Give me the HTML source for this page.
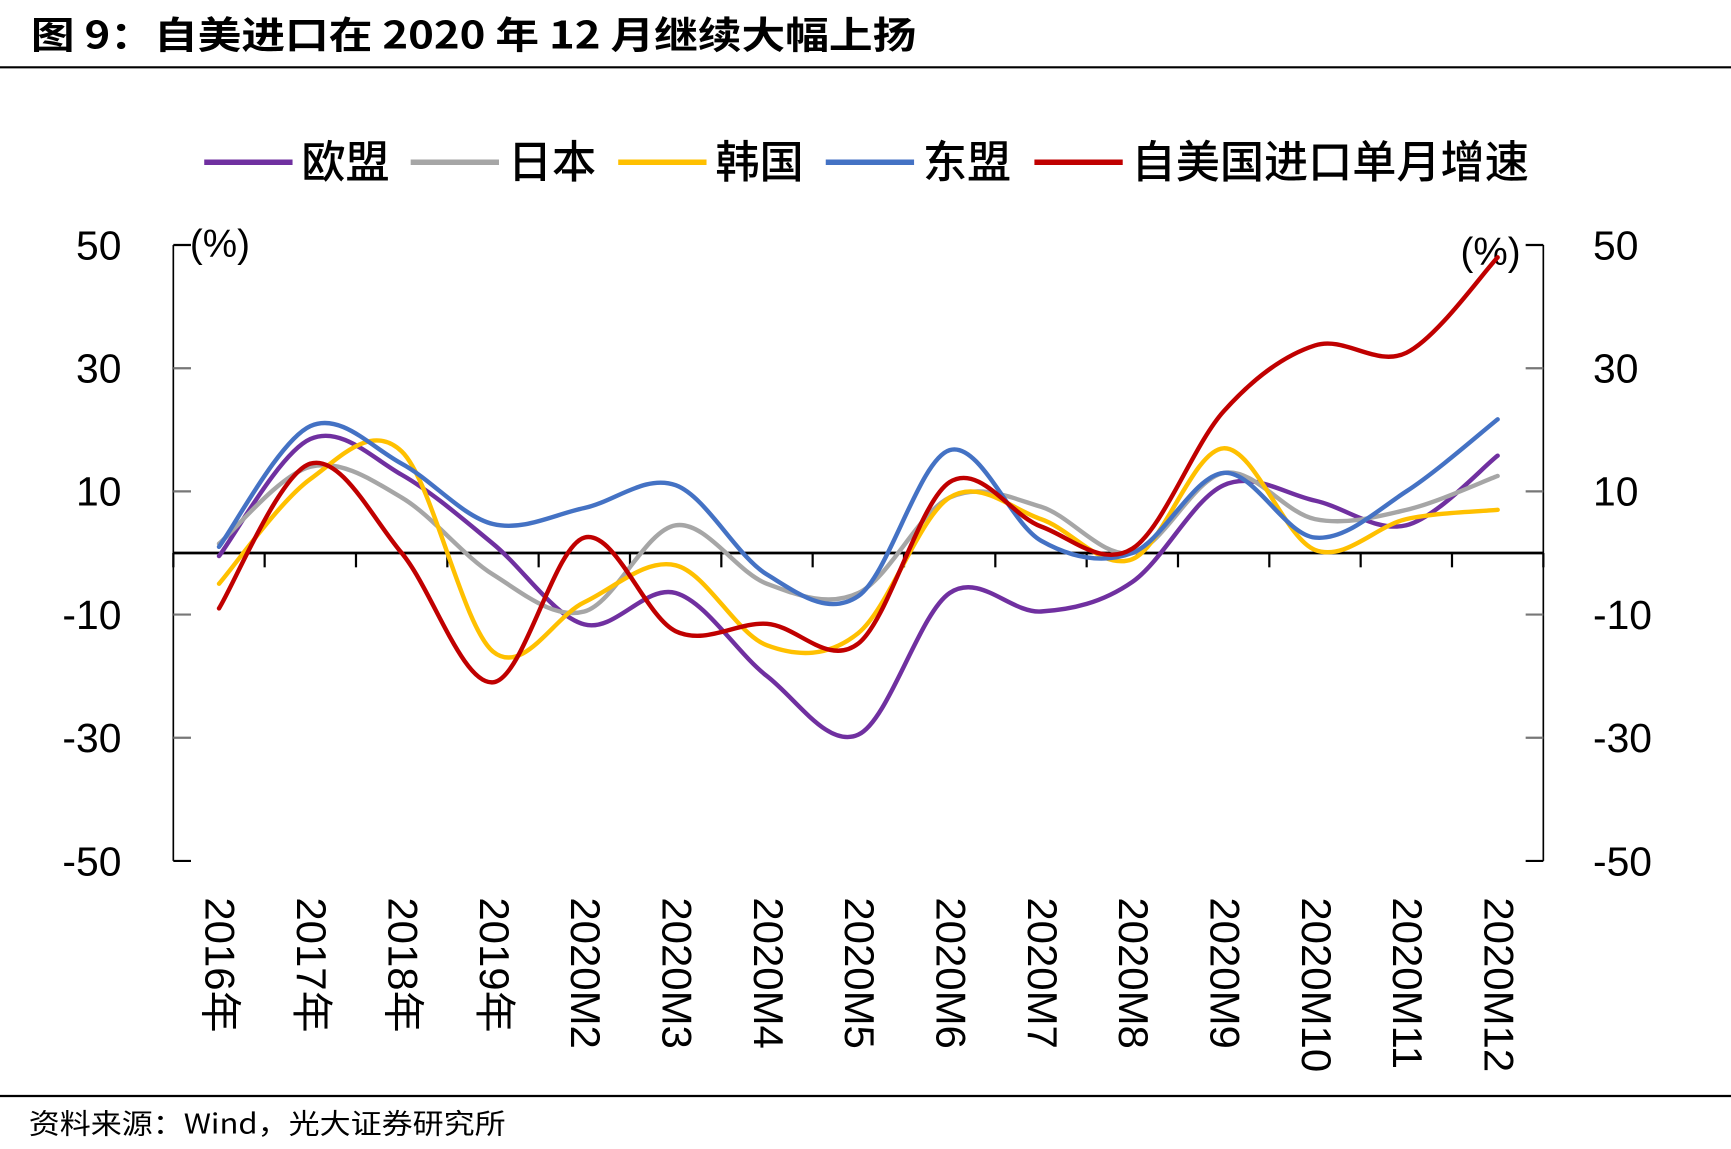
<!DOCTYPE html>
<html><head><meta charset="utf-8"><style>
html,body{margin:0;padding:0;background:#fff;width:1731px;height:1149px;overflow:hidden}
svg{display:block}
text{font-family:"Liberation Sans","Noto Sans CJK SC",sans-serif}
.cjk{font-family:"Noto Sans CJK SC","Liberation Sans",sans-serif}
</style></head><body>
<svg id="chart" width="1731" height="1149" viewBox="0 0 1568 1041" preserveAspectRatio="none" xmlns="http://www.w3.org/2000/svg">
<text class="cjk" x="28" y="44" font-size="34" font-weight="bold" fill="#000" textLength="802" lengthAdjust="spacingAndGlyphs">图 9：自美进口在 2020 年 12 月继续大幅上扬</text>
<line x1="0" y1="61" x2="1568" y2="61" stroke="#000" stroke-width="2"/>
<g id="legend"></g>
<g id="axes"></g>
<g id="series"></g>
<line x1="0" y1="993" x2="1568" y2="993" stroke="#000" stroke-width="2"/>
<text class="cjk" x="26" y="1027" font-size="25" fill="#000" textLength="432" lengthAdjust="spacingAndGlyphs">资料来源：Wind，光大证券研究所</text>
</svg>
<script>
const categories=["2016年","2017年","2018年","2019年","2020M2","2020M3","2020M4","2020M5","2020M6","2020M7","2020M8","2020M9","2020M10","2020M11","2020M12"];
const yTicks=[50,30,10,-10,-30,-50];
const seriesNames=["欧盟","日本","韩国","东盟","自美国进口单月增速"];
const seriesColors=["#7030a0","#a6a6a6","#ffc000","#4472c4","#c00000"];
const euValues=[-0.5,18.5,12.7,1.5,-11.6,-6.5,-20,-29.5,-6.5,-9.5,-4.7,11,8.5,4.5,15.8];
const japanValues=[1.5,14,9,-3.5,-9.5,4.5,-5,-6.5,9,7.5,0,13,5.5,7,12.5];
const koreaValues=[-5,12,16.5,-16,-8,-2,-15,-13,9,5.5,-1,17,0.5,5.5,7];
const aseanValues=[1,20.6,14.5,4.7,7.3,11,-3.5,-7,16.7,2,0,13,2.5,10,21.7];
const usValues=[-9,14.5,0,-21,2.5,-12.7,-11.5,-14.7,11.5,4.3,0.7,23,33.7,32.5,48];
const allSeries=[euValues,japanValues,koreaValues,aseanValues,usValues];

const NS="http://www.w3.org/2000/svg";
const L=157,R=1398,T=222,B=780,yMax=50,yMin=-50;
const bw=(R-L)/categories.length;
function xPos(i){return L+bw*(i+0.5);}
function yPos(v){return T+(yMax-v)/(yMax-yMin)*(B-T);}
function mk(tag,attrs,parent){const e=document.createElementNS(NS,tag);for(const k in attrs)e.setAttribute(k,attrs[k]);parent.appendChild(e);return e;}

const axes=document.getElementById('axes');
let e;
e=mk('line',{x1:L,y1:T,x2:L,y2:B,stroke:'#000','stroke-width':1.5},axes);


e=mk('line',{x1:R,y1:T,x2:R,y2:B,stroke:'#000','stroke-width':1.5},axes);


yTicks.forEach(v=>{
  const y=yPos(v);
  const c=(v===50||v===-50)?'#000':'#777';
  e=mk('line',{x1:L,y1:y,x2:L+16,y2:y,stroke:c,'stroke-width':2},axes);
  
  
  e=mk('line',{x1:R-16,y1:y,x2:R,y2:y,stroke:c,'stroke-width':2},axes);
  
  
  e=mk('text',{x:110,y:y+13,'font-size':37,'text-anchor':'end',fill:'#000'},axes);
  e.textContent=v;
  
  
  e=mk('text',{x:1443,y:y+13,'font-size':37,'text-anchor':'start',fill:'#000'},axes);
  e.textContent=v;
  
  
});
e=mk('text',{x:172,y:233,'font-size':35,fill:'#000'},axes);e.textContent='(%)';


e=mk('text',{x:1323,y:240,'font-size':35,fill:'#000'},axes);e.textContent='(%)';


const y0=yPos(0);
e=mk('line',{x1:L,y1:y0,x2:R,y2:y0,stroke:'#000','stroke-width':2.5},axes);


for(let i=0;i<=categories.length;i++){
  e=mk('line',{x1:L+bw*i,y1:y0,x2:L+bw*i,y2:y0+13,stroke:'#000','stroke-width':2},axes);
  
  
}
categories.forEach((c,i)=>{
  const x=xPos(i)-12;
  e=mk('text',{x:x,y:813,'font-size':38,fill:'#000',transform:`rotate(90 ${x} 813)`},axes);
  e.textContent=c;
  
  
});

function smoothPath(vals){
  const p=vals.map((v,i)=>[xPos(i),yPos(v)]);
  let d=`M${p[0][0]},${p[0][1]}`;
  for(let i=0;i<p.length-1;i++){
    const p0=p[i-1]||p[i],p1=p[i],p2=p[i+1],p3=p[i+2]||p[i+1];
    const c1=[p1[0]+(p2[0]-p0[0])/6,p1[1]+(p2[1]-p0[1])/6];
    const c2=[p2[0]-(p3[0]-p1[0])/6,p2[1]-(p3[1]-p1[1])/6];
    d+=` C${c1[0]},${c1[1]} ${c2[0]},${c2[1]} ${p2[0]},${p2[1]}`;
  }
  return d;
}
const sg=document.getElementById('series');
const serNames=['series-eu','series-japan','series-korea','series-asean','series-us-imports'];
allSeries.forEach((vals,k)=>{
  e=mk('path',{d:smoothPath(vals),fill:'none',stroke:seriesColors[k],'stroke-width':4,'stroke-linejoin':'round','stroke-linecap':'round'},sg);
  
  
});

const lg=document.getElementById('legend');
const lx=[185,372,560,748,937];
seriesNames.forEach((n,k)=>{
  const g=mk('g',{},lg);
  
  
  mk('line',{x1:lx[k],y1:147,x2:lx[k]+80,y2:147,stroke:seriesColors[k],'stroke-width':5},g);
  const t=mk('text',{x:lx[k]+88,y:161,'font-size':40,'font-weight':500,fill:'#000','class':'cjk'},g);
  t.textContent=n;
});
</script>
</body></html>
